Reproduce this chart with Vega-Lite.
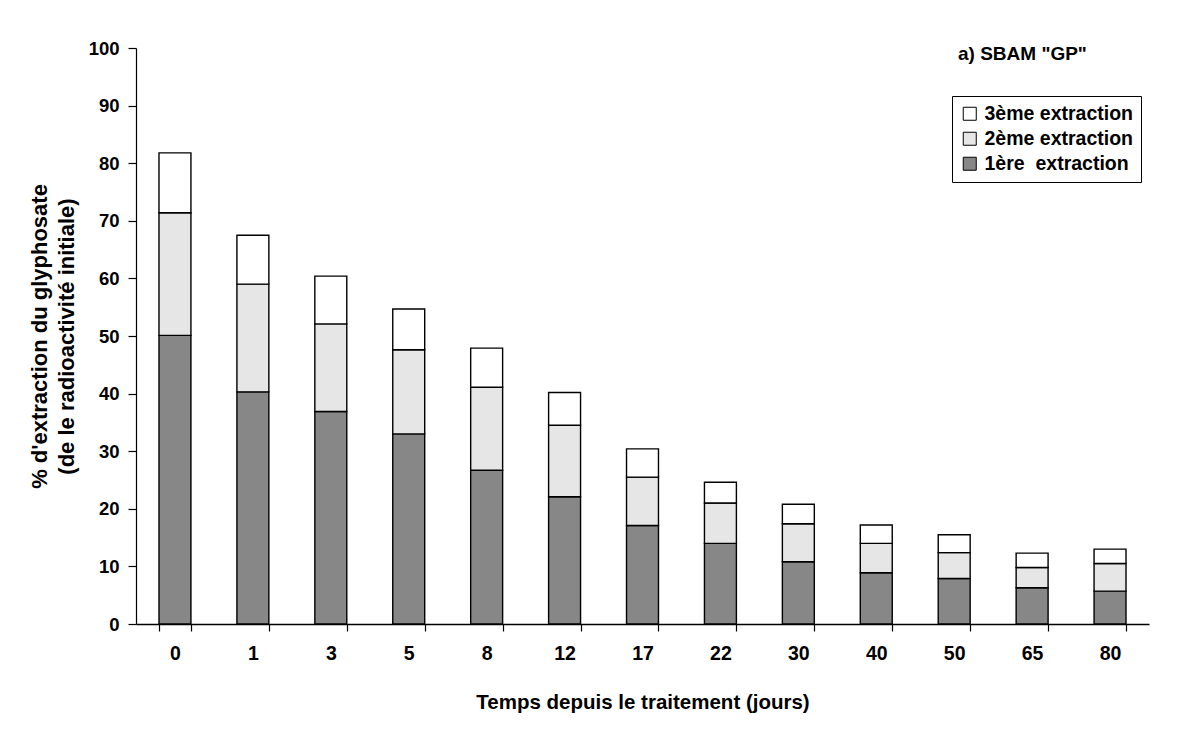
{
  "$schema": "https://vega.github.io/schema/vega-lite/v6.json",
  "width": 1013,
  "height": 576,
  "autosize": {"type": "none"},
  "padding": {"left": 136, "top": 48, "right": 51, "bottom": 118},
  "background": "white",
  "title": {
    "text": "a) SBAM \"GP\"",
    "anchor": "start",
    "frame": "group",
    "dx": 822,
    "dy": 40,
    "offset": 0,
    "baseline": "alphabetic",
    "font": "Liberation Sans",
    "fontSize": 19,
    "fontWeight": "bold",
    "color": "black"
  },
  "data": {
    "values": [
      {"t": "0", "s": "1ère\u00a0 extraction", "k": 1, "v": 50.1},
      {"t": "0", "s": "2ème extraction", "k": 2, "v": 21.3},
      {"t": "0", "s": "3ème extraction", "k": 3, "v": 10.4},
      {"t": "1", "s": "1ère\u00a0 extraction", "k": 1, "v": 40.3},
      {"t": "1", "s": "2ème extraction", "k": 2, "v": 18.7},
      {"t": "1", "s": "3ème extraction", "k": 3, "v": 8.5},
      {"t": "3", "s": "1ère\u00a0 extraction", "k": 1, "v": 36.9},
      {"t": "3", "s": "2ème extraction", "k": 2, "v": 15.2},
      {"t": "3", "s": "3ème extraction", "k": 3, "v": 8.3},
      {"t": "5", "s": "1ère\u00a0 extraction", "k": 1, "v": 33.0},
      {"t": "5", "s": "2ème extraction", "k": 2, "v": 14.6},
      {"t": "5", "s": "3ème extraction", "k": 3, "v": 7.1},
      {"t": "8", "s": "1ère\u00a0 extraction", "k": 1, "v": 26.7},
      {"t": "8", "s": "2ème extraction", "k": 2, "v": 14.4},
      {"t": "8", "s": "3ème extraction", "k": 3, "v": 6.8},
      {"t": "12", "s": "1ère\u00a0 extraction", "k": 1, "v": 22.1},
      {"t": "12", "s": "2ème extraction", "k": 2, "v": 12.4},
      {"t": "12", "s": "3ème extraction", "k": 3, "v": 5.7},
      {"t": "17", "s": "1ère\u00a0 extraction", "k": 1, "v": 17.1},
      {"t": "17", "s": "2ème extraction", "k": 2, "v": 8.4},
      {"t": "17", "s": "3ème extraction", "k": 3, "v": 4.9},
      {"t": "22", "s": "1ère\u00a0 extraction", "k": 1, "v": 14.0},
      {"t": "22", "s": "2ème extraction", "k": 2, "v": 7.0},
      {"t": "22", "s": "3ème extraction", "k": 3, "v": 3.6},
      {"t": "30", "s": "1ère\u00a0 extraction", "k": 1, "v": 10.8},
      {"t": "30", "s": "2ème extraction", "k": 2, "v": 6.6},
      {"t": "30", "s": "3ème extraction", "k": 3, "v": 3.4},
      {"t": "40", "s": "1ère\u00a0 extraction", "k": 1, "v": 8.9},
      {"t": "40", "s": "2ème extraction", "k": 2, "v": 5.1},
      {"t": "40", "s": "3ème extraction", "k": 3, "v": 3.2},
      {"t": "50", "s": "1ère\u00a0 extraction", "k": 1, "v": 7.9},
      {"t": "50", "s": "2ème extraction", "k": 2, "v": 4.5},
      {"t": "50", "s": "3ème extraction", "k": 3, "v": 3.1},
      {"t": "65", "s": "1ère\u00a0 extraction", "k": 1, "v": 6.3},
      {"t": "65", "s": "2ème extraction", "k": 2, "v": 3.5},
      {"t": "65", "s": "3ème extraction", "k": 3, "v": 2.5},
      {"t": "80", "s": "1ère\u00a0 extraction", "k": 1, "v": 5.7},
      {"t": "80", "s": "2ème extraction", "k": 2, "v": 4.8},
      {"t": "80", "s": "3ème extraction", "k": 3, "v": 2.5}
    ]
  },
  "mark": {"type": "bar", "stroke": "black", "strokeWidth": 1.4},
  "encoding": {
    "x": {
      "field": "t",
      "type": "ordinal",
      "sort": ["0", "1", "3", "5", "8", "12", "17", "22", "30", "40", "50", "65", "80"],
      "scale": {"paddingInner": 0.59, "paddingOuter": 0.295},
      "axis": {
        "title": "Temps depuis le traitement (jours)",
        "labelAngle": 0,
        "labelFontSize": 19.5,
        "tickBand": "extent",
        "tickSize": 7,
        "labelPadding": 13,
        "titlePadding": 30,
        "titleFontSize": 20.5,
        "domainColor": "black",
        "tickColor": "black",
        "domainWidth": 1.5,
        "tickWidth": 1.2
      }
    },
    "y": {
      "field": "v",
      "type": "quantitative",
      "stack": "zero",
      "scale": {"domain": [0, 100], "nice": false},
      "axis": {
        "title": ["% d'extraction du glyphosate", "(de le radioactivité initiale)"],
        "values": [0, 10, 20, 30, 40, 50, 60, 70, 80, 90, 100],
        "labelFontSize": 18.5,
        "grid": false,
        "tickSize": 8,
        "labelPadding": 9,
        "titlePadding": 10,
        "titleFontSize": 22,
        "titleLineHeight": 27,
        "domainColor": "black",
        "tickColor": "black",
        "domainWidth": 1.2,
        "tickWidth": 1.2
      }
    },
    "color": {
      "field": "s",
      "type": "nominal",
      "scale": {
        "domain": ["3ème extraction", "2ème extraction", "1ère\u00a0 extraction"],
        "range": ["#ffffff", "#e6e6e6", "#878787"]
      },
      "legend": {
        "title": null,
        "orient": "none",
        "legendX": 816,
        "legendY": 48,
        "strokeColor": "black",
        "padding": 8,
        "symbolType": "square",
        "symbolSize": 169,
        "symbolStrokeColor": "black",
        "symbolStrokeWidth": 1,
        "labelFont": "Liberation Sans",
        "labelFontSize": 19.5,
        "labelFontWeight": "bold",
        "labelColor": "black",
        "labelOffset": 5,
        "rowPadding": 4
      }
    },
    "order": {"field": "k", "type": "quantitative"}
  },
  "config": {
    "font": "Liberation Sans",
    "view": {"stroke": null},
    "axis": {
      "labelFont": "Liberation Sans",
      "labelFontWeight": "bold",
      "labelColor": "black",
      "titleFont": "Liberation Sans",
      "titleFontWeight": "bold",
      "titleColor": "black"
    }
  }
}
